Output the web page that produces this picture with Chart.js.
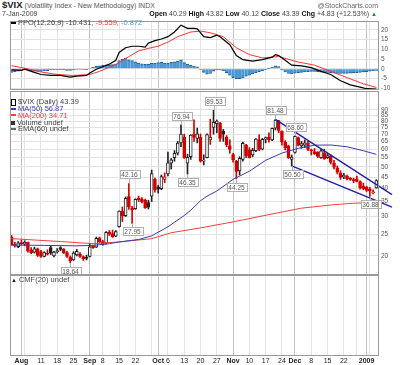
<!DOCTYPE html>
<html>
<head>
<meta charset="utf-8">
<script src="https://cdn.jsdelivr.net/npm/chart.js@4.4.1/dist/chart.umd.min.js"></script>
<style>
  body { margin: 0; background: #fff; }
  #wrap { position: relative; width: 400px; height: 365px; overflow: hidden; font-family: "Liberation Sans", Arial, sans-serif; color: #333; }
  canvas { position: absolute; left: 0; }
  .t { position: absolute; white-space: nowrap; font-size: 7px; line-height: 8px; }
  .lg { font-size: 7.5px; color: #444; }
  .ic { display: inline-block; width: 5px; height: 2px; vertical-align: middle; margin: 0 2px 1px 0; }
</style>
</head>
<body>
<div id="wrap">
  <canvas id="ppo" width="400" height="82" style="top:14px"></canvas>
  <canvas id="px" width="400" height="197" style="top:84px"></canvas>
  <canvas id="cmf" width="400" height="94" style="top:271px"></canvas>

  <div class="t" style="left:2px;top:1px;color:#555"><b style="font-size:9.5px;color:#222">$VIX</b> (Volatility Index - New Methodology) INDX</div>
  <div class="t" style="right:22px;top:2px;color:#666">@StockCharts.com</div>
  <div class="t" style="left:2px;top:10px;color:#444">7-Jan-2009</div>
  <div class="t" style="right:23px;top:10px;color:#444"><b style="color:#111">Open</b> 40.29 <b style="color:#111">High</b> 43.82 <b style="color:#111">Low</b> 40.12 <b style="color:#111">Close</b> 43.39 <b style="color:#111">Chg</b> +4.83 (+12.53%) <span style="color:#1a8a1a;font-size:6px">▲</span></div>

  <div class="t lg" style="left:11px;top:19px"><span class="ic" style="background:#000"></span>PPO(12,26,9) -10.431, <span style="color:#f03c3c">-9.559,</span> <span style="color:#5b9bd5">-0.872</span></div>

  <div class="t lg" style="left:11px;top:98px"><span class="ic" style="width:3px;height:5px;background:#fff;border:1px solid #000;margin-bottom:0"></span>$VIX (Daily) 43.39</div>
  <div class="t lg" style="left:11px;top:105px;color:#3b3bb0"><span class="ic" style="background:#3b3bb0"></span>MA(50) 56.87</div>
  <div class="t lg" style="left:11px;top:111.7px;color:#f04040"><span class="ic" style="background:#f04040"></span>MA(200) 34.71</div>
  <div class="t lg" style="left:11px;top:118.5px"><span class="ic" style="height:4px;width:4px;background:#333;margin-bottom:0"></span>Volume undef</div>
  <div class="t lg" style="left:11px;top:125.2px"><span class="ic" style="background:#5e705e"></span>EMA(60) undef</div>

  <div class="t lg" style="left:11px;top:276px"><span style="font-size:6px;color:#222;margin-right:2px">▲</span>CMF(20) undef</div>
</div>

<script>
const FONT = '"Liberation Sans", Arial, sans-serif';
const RED = '#d40000';
const BLACK = '#222';

// trading days shown, per month
const jul08 = [29, 30, 31];
const aug08 = [1, 4, 5, 6, 7, 8, 11, 12, 13, 14, 15, 18, 19, 20, 21, 22, 25, 26, 27, 28, 29];
const sep08 = [2, 3, 4, 5, 8, 9, 10, 11, 12, 15, 16, 17, 18, 19, 22, 23, 24, 25, 26, 29, 30];
const oct08 = [1, 2, 3, 6, 7, 8, 9, 10, 13, 14, 15, 16, 17, 20, 21, 22, 23, 24, 27, 28, 29, 30, 31];
const nov08 = [3, 4, 5, 6, 7, 10, 11, 12, 13, 14, 17, 18, 19, 20, 21, 24, 25, 26, 28];
const dec08 = [1, 2, 3, 4, 5, 8, 9, 10, 11, 12, 15, 16, 17, 18, 19, 22, 23, 24, 26, 29, 30, 31];
const jan09 = [2, 5, 6, 7];

// x axis tick labels
const tickDates = ['2008-08-01', '2008-08-11', '2008-08-18', '2008-08-25', '2008-09-02', '2008-09-08', '2008-09-15', '2008-09-22',
  '2008-10-01', '2008-10-06', '2008-10-13', '2008-10-20', '2008-10-27', '2008-11-03', '2008-11-10', '2008-11-17', '2008-11-24',
  '2008-12-01', '2008-12-08', '2008-12-15', '2008-12-22', '2009-01-02'];
const tickText = ['Aug', '11', '18', '25', 'Sep', '8', '15', '22', 'Oct', '6', '13', '20', '27', 'Nov', '10', '17', '24', 'Dec', '8', '15', '22', '2009'];

const ppoTicks = [-10, -5, 0, 5, 10, 15, 20];
const priceTicks = [20, 25, 30, 35, 40, 45, 50, 55, 60, 65, 70, 75, 80, 85, 90];

// daily candles
const opens = [24.2, 22.5, 22.0, 22.9, 22.6, 23.0, 21.3, 20.8, 21.5, 20.9,
  19.9, 20.6, 21.8, 20.0, 20.9, 21.8, 21.4, 20.7, 19.8, 19.2,
  20.2, 20.4, 19.9, 19.6, 19.9, 22.1, 21.9, 24.1, 23.2, 22.8,
  25.6, 25.2, 24.5, 27.0, 31.7, 30.3, 36.8, 32.8, 32.5, 36.3,
  35.9, 35.5, 34.6, 37.0, 44.0, 40.6, 40.0, 44.0, 46.5, 52.0,
  55.0, 57.5, 64.0, 68.0, 52.0, 55.5, 70.0, 67.0, 68.0, 53.0,
  55.0, 66.0, 75.0, 78.0, 78.5, 72.0, 68.0, 62.0, 56.8, 53.0,
  48.0, 54.0, 62.5, 59.5, 56.5, 59.0, 66.0, 60.0, 66.5, 68.0,
  66.0, 74.5, 80.5, 72.0, 64.5, 62.0, 54.0, 58.0, 67.5, 62.0,
  62.5, 64.0, 59.5, 58.5, 58.0, 55.0, 57.5, 55.0, 56.0, 52.0,
  49.5, 47.0, 45.0, 45.5, 44.5, 43.8, 44.0, 43.0, 41.0, 40.5,
  39.8, 38.3, 40.29];
const highs = [24.7, 23.0, 23.2, 23.6, 23.4, 23.1, 21.8, 21.9, 21.7, 21.2,
  20.9, 21.3, 22.2, 21.0, 21.6, 22.0, 21.6, 21.0, 20.0, 20.9,
  21.4, 20.7, 20.0, 20.2, 22.6, 22.4, 24.3, 24.3, 23.5, 25.7,
  26.0, 26.1, 26.0, 31.8, 33.1, 36.7, 42.16, 33.3, 36.0, 37.0,
  36.5, 35.9, 35.5, 48.4, 44.5, 41.3, 46.0, 47.0, 58.2, 54.5,
  59.1, 64.9, 76.94, 70.0, 57.0, 69.6, 81.2, 74.5, 70.1, 56.6,
  70.2, 81.6, 89.53, 81.0, 79.0, 73.5, 69.0, 66.0, 57.5, 53.5,
  55.5, 64.5, 63.0, 61.0, 60.5, 66.8, 69.5, 67.0, 68.0, 71.0,
  74.6, 81.48, 80.7, 72.5, 65.5, 62.5, 56.5, 68.6, 68.0, 65.0,
  66.0, 65.0, 60.0, 60.5, 58.5, 59.9, 60.0, 57.5, 56.5, 53.5,
  50.5, 48.0, 46.8, 46.0, 44.8, 44.5, 45.5, 43.3, 42.3, 41.0,
  40.5, 39.5, 43.82];
const lows = [22.3, 21.9, 21.8, 22.4, 22.2, 20.8, 20.5, 20.6, 19.9, 19.7,
  19.8, 20.2, 20.3, 19.8, 20.6, 21.1, 20.5, 19.7, 18.64, 19.1,
  20.0, 19.7, 19.1, 19.2, 19.8, 21.6, 21.8, 22.9, 22.3, 22.6,
  24.7, 24.2, 24.4, 26.9, 28.5, 30.0, 32.3, 27.95, 32.3, 35.0,
  34.5, 32.6, 32.4, 35.0, 38.5, 38.2, 39.5, 42.5, 45.6, 48.9,
  53.0, 56.5, 61.5, 54.5, 46.35, 54.0, 65.0, 64.0, 52.5, 51.0,
  54.8, 63.0, 70.0, 71.0, 65.0, 65.0, 61.5, 57.5, 52.5, 44.25,
  46.0, 53.0, 55.0, 54.8, 55.5, 58.5, 59.0, 59.5, 64.0, 64.5,
  65.5, 73.0, 71.0, 62.5, 59.5, 54.5, 50.5, 57.5, 62.0, 60.5,
  61.0, 59.0, 56.5, 56.8, 55.0, 54.5, 54.0, 54.5, 51.5, 49.0,
  46.5, 44.0, 44.3, 43.7, 43.5, 42.5, 42.8, 39.8, 39.5, 38.8,
  36.88, 37.9, 40.12];
const closes = [22.4, 22.2, 22.9, 22.7, 23.1, 21.0, 20.7, 21.5, 20.1, 19.9,
  20.7, 20.4, 20.6, 20.8, 21.0, 21.4, 20.7, 19.9, 19.0, 20.6,
  21.0, 19.9, 19.4, 19.5, 22.0, 21.8, 24.0, 23.1, 22.6, 25.5,
  25.0, 24.4, 25.7, 31.7, 30.3, 36.2, 33.1, 32.1, 35.8, 35.7,
  34.9, 32.8, 33.0, 46.7, 39.4, 39.8, 45.3, 45.1, 52.1, 53.7,
  57.5, 63.9, 70.0, 55.0, 55.1, 69.3, 67.6, 70.3, 53.0, 53.1,
  69.7, 67.8, 79.1, 80.1, 67.0, 70.0, 62.9, 59.9, 53.7, 47.7,
  54.6, 63.7, 56.1, 55.0, 59.2, 66.5, 59.8, 66.3, 67.6, 65.9,
  74.3, 80.9, 72.7, 64.7, 60.9, 54.9, 55.3, 68.5, 62.5, 63.5,
  64.0, 59.9, 58.9, 57.3, 55.7, 59.0, 54.3, 56.1, 52.4, 49.8,
  47.3, 44.9, 45.9, 44.2, 43.9, 43.4, 43.0, 40.3, 40.0, 39.2,
  39.1, 38.6, 43.39];

// moving averages, read at a few dates (index into the trading days)
const ma50Idx = [0, 10, 20, 25, 30, 33, 39, 43, 48, 50, 53, 55, 58, 60, 63, 68, 73, 78, 83, 88, 93, 98, 103, 108, 112];
const ma50Val = [22.4, 22.3, 22.2, 22.3, 22.7, 23.1, 23.7, 24.6, 27.0, 28.3, 30.3, 32.0, 35.3, 37.0, 39.0, 44.0, 47.8, 53.5, 57.6, 60.5, 62.5, 62.6, 61.5, 59.0, 56.87];
const ma200Idx = [0, 15, 25, 33, 43, 49, 58, 68, 79, 89, 99, 105, 112];
const ma200Val = [23.9, 23.2, 22.7, 23.1, 23.9, 25.4, 26.7, 28.4, 30.6, 32.7, 33.9, 34.4, 34.71];

// trend lines drawn on the price panel
const trendUpIdx = [81, 112];
const trendUpVal = [81.48, 41.7];
const trendLoIdx = [86, 112];
const trendLoVal = [50.5, 35.3];

// high / low call-outs
const noteIdx = [18, 36, 37, 52, 54, 62, 69, 81, 86, 87, 110];
const noteVal = [18.64, 42.16, 27.95, 76.94, 46.35, 89.53, 44.25, 81.48, 50.50, 68.60, 36.88];
const notePos = ['below', 'above', 'below', 'above', 'below', 'above', 'below', 'above', 'below', 'above', 'below'];

// PPO(12,26,9)
const ppoIdx = [0, 3, 4, 7, 9, 12, 15, 18, 20, 23, 24, 26, 28, 30, 32, 33, 35, 37, 39, 41, 42, 44, 46, 48, 50, 52, 54, 56, 57, 59,
  61, 63, 64, 67, 69, 71, 74, 77, 80, 81, 82, 84, 86, 89, 92, 95, 98, 101, 104, 107, 109, 112];
const ppoVal = [-0.5, -0.8, -0.2, -1.8, -2.9, -3.4, -3.4, -4.2, -3.7, -3.4, -2.1, -0.2, 1.1, 2.4, 4.4, 8.4, 10.8, 11.6, 11.6, 11.1,
  13.2, 14.5, 15.3, 16.5, 18.9, 22.4, 20.8, 20.8, 20.5, 16.5, 16.0, 17.3, 16.5, 12.4, 6.8, 4.7, 4.0, 4.7, 6.0, 7.3,
  6.8, 4.4, 1.9, 1.5, 0.6, -1.3, -2.9, -6.1, -8.2, -9.4, -10.2, -10.431];
const sigIdx = [0, 5, 9, 14, 19, 24, 27, 30, 33, 36, 39, 42, 45, 48, 51, 55, 58, 61, 65, 69, 73, 77, 82, 88, 93, 98, 103, 108, 112];
const sigVal = [1.6, 0, -1.6, -2.9, -3.4, -2.9, -1.3, 0.8, 3.1, 6.3, 9.2, 10.5, 11.6, 13.7, 16.5, 18.9, 19.4, 18.5, 16.5, 10.8,
  7.3, 5.6, 6.3, 3.5, 1.9, -1.3, -4.5, -7.7, -9.559];
const histVal = [-1.8, -1.6, -1.2, -0.8, -0.4, -0.6, -1.0, -1.2, -1.3, -1.3,
  -1.1, -0.9, -0.6, -0.5, -0.5, -0.4, -0.6, -0.8, -0.8, -0.5,
  -0.3, -0.2, -0.3, -0.4, 0.3, 0.8, 1.3, 1.6, 1.8, 2.0,
  2.0, 2.2, 2.5, 4.2, 5.0, 5.5, 4.6, 4.2, 3.6, 3.0,
  2.6, 2.3, 2.5, 2.8, 3.0, 3.2, 3.4, 3.0, 2.9, 3.4,
  3.6, 4.0, 4.6, 3.2, 2.5, 1.9, 1.4, 1.0, -0.2, -1.8,
  -2.8, -2.4, -1.2, -0.6, -0.5, -1.0, -2.0, -3.2, -4.5, -5.2,
  -5.0, -4.6, -3.8, -3.2, -2.6, -2.0, -1.5, -0.9, -0.4, 0.1,
  0.9, 1.6, 1.1, -0.5, -1.6, -2.4, -2.6, -2.2, -2.0, -1.8,
  -1.6, -1.4, -1.3, -1.3, -1.5, -1.7, -1.8, -1.9, -2.0, -2.2,
  -2.4, -2.4, -2.3, -2.3, -2.2, -2.1, -2.0, -1.8, -1.6, -1.4,
  -1.2, -1.0, -0.872];

function day(y, m, d) {
    return `${y}-${String(m).padStart(2, '0')}-${String(d).padStart(2, '0')}`;
}

const dates = [
    ...jul08.map(d => day(2008, 7, d)),
    ...aug08.map(d => day(2008, 8, d)),
    ...sep08.map(d => day(2008, 9, d)),
    ...oct08.map(d => day(2008, 10, d)),
    ...nov08.map(d => day(2008, 11, d)),
    ...dec08.map(d => day(2008, 12, d)),
    ...jan09.map(d => day(2009, 1, d))
];

const isMonthStart = i => i > 0 && dates[i].slice(5, 7) !== dates[i - 1].slice(5, 7);
const isMonday = i => new Date(dates[i] + 'T12:00:00').getDay() === 1;
const vGrid = c => isMonthStart(c.index) ? '#c2c2c2' : isMonday(c.index) ? '#e4e4e4' : 'rgba(0,0,0,0)';

const tickLabel = i => {
    const k = tickDates.indexOf(dates[i]);
    return k < 0 ? '' : tickText[k];
};

const pts = (idx, vals) => idx.map((i, k) => ({ x: dates[i], y: vals[k] }));

const candleColor = closes.map((c, i) => (i === 0 ? c < opens[0] : c < closes[i - 1]) ? RED : BLACK);
const candleFill = closes.map((c, i) => c < opens[i] ? candleColor[i] : '#fff');

const xAxis = showLabels => ({
    type: 'category',
    offset: true,
    grid: { offset: false, drawTicks: false, color: vGrid, lineWidth: 1 },
    border: { display: false },
    ticks: showLabels ? {
        autoSkip: false, maxRotation: 0, minRotation: 0, padding: 2, color: '#222',
        font: c => ({ size: 7, family: FONT, weight: /^\d{1,2}$/.test(tickLabel(c.index)) ? 'normal' : 'bold' }),
        callback: (v, i) => tickLabel(i)
    } : { display: false },
    afterFit: s => { s.height = showLabels ? 10 : 0; }
});

const yRight = (tickValues, extra) => Object.assign({
    position: 'right',
    grid: { drawTicks: false, color: tickValues ? '#e2e2e2' : 'rgba(0,0,0,0)' },
    border: { display: false },
    ticks: tickValues ? {
        autoSkip: false, padding: 3, color: '#555',
        font: { size: 6.5, family: FONT },
        callback: v => String(v)
    } : { display: false },
    afterBuildTicks: s => { if (tickValues) s.ticks = tickValues.map(v => ({ value: v })); },
    afterFit: s => { s.width = 22; }
}, extra);

const frame = {
    id: 'frame',
    afterDraw(chart) {
        const { ctx, chartArea: a } = chart;
        ctx.save();
        ctx.strokeStyle = '#9a9a9a';
        ctx.lineWidth = 1;
        ctx.strokeRect(Math.round(a.left) + 0.5, Math.round(a.top) + 0.5, Math.round(a.right - a.left), Math.round(a.bottom - a.top));
        ctx.restore();
    }
};

const trends = {
    id: 'trends',
    afterDatasetsDraw(chart) {
        const { ctx, scales: { x, y } } = chart;
        ctx.save();
        ctx.strokeStyle = '#1e1ea8';
        ctx.lineWidth = 1.3;
        [[trendUpIdx, trendUpVal], [trendLoIdx, trendLoVal]].forEach(([ix, vals]) => {
            const x0 = x.getPixelForValue(ix[0]), y0 = y.getPixelForValue(vals[0]);
            const x1 = x.getPixelForValue(ix[1]), y1 = y.getPixelForValue(vals[1]);
            const xe = x.right + 14;
            const ye = y0 + (y1 - y0) * (xe - x0) / (x1 - x0);
            ctx.beginPath();
            ctx.moveTo(x0, y0);
            ctx.lineTo(xe, ye);
            ctx.stroke();
        });
        ctx.restore();
    }
};

const notes = {
    id: 'notes',
    afterDatasetsDraw(chart) {
        const { ctx, scales: { x, y } } = chart;
        ctx.save();
        ctx.font = `6.5px ${FONT}`;
        ctx.textAlign = 'center';
        ctx.textBaseline = 'middle';
        noteIdx.forEach((i, k) => {
            const px = Math.round(x.getPixelForValue(i)) + 0.5;
            const py = y.getPixelForValue(noteVal[k]);
            const txt = noteVal[k].toFixed(2);
            const w = Math.round(ctx.measureText(txt).width) + 4, h = 8;
            const up = notePos[k] === 'above';
            const by = Math.round(up ? py - 5 - h : py + 4) + 0.5;
            const bx = Math.round(px - w / 2) + 0.5;
            ctx.strokeStyle = '#b0b0b0';
            ctx.lineWidth = 1;
            ctx.beginPath();
            ctx.moveTo(px, py);
            ctx.lineTo(px, up ? by + h : by);
            ctx.stroke();
            ctx.fillStyle = '#fff';
            ctx.fillRect(bx, by, w, h);
            ctx.strokeRect(bx, by, w, h);
            ctx.fillStyle = '#555';
            ctx.fillText(txt, px, by + h / 2 + 0.5);
        });
        ctx.restore();
    }
};

const base = padding => ({
    responsive: false,
    animation: false,
    events: [],
    layout: { padding },
    plugins: { legend: { display: false }, tooltip: { enabled: false } }
});

new Chart(document.getElementById('ppo'), {
    type: 'bar',
    data: {
        labels: dates,
        datasets: [
            { type: 'line', data: pts(ppoIdx, ppoVal), borderColor: '#000', borderWidth: 1.2, pointRadius: 0, order: 0 },
            { type: 'line', data: pts(sigIdx, sigVal), borderColor: '#ff3333', borderWidth: 1, pointRadius: 0, order: 1 },
            { data: histVal, backgroundColor: '#4b98d0', borderColor: '#1e5a96', borderSkipped: false,
              borderWidth: c => histVal[c.dataIndex] >= 0 ? { top: 1, bottom: 0, left: 0, right: 0 } : { top: 0, bottom: 1, left: 0, right: 0 },
              barPercentage: 1, categoryPercentage: 1, order: 2 }
        ]
    },
    options: Object.assign(base({ left: 10, top: 5, bottom: 6, right: 0 }), {
        scales: {
            x: xAxis(false),
            y: yRight(ppoTicks, { type: 'linear', min: -10.4, max: 24.6 })
        }
    }),
    plugins: [frame]
});

new Chart(document.getElementById('px'), {
    type: 'bar',
    data: {
        labels: dates,
        datasets: [
            { type: 'line', data: pts(ma50Idx, ma50Val), borderColor: '#3b3bb0', borderWidth: 1, pointRadius: 0, order: 0 },
            { type: 'line', data: pts(ma200Idx, ma200Val), borderColor: '#f04040', borderWidth: 1, pointRadius: 0, order: 0 },
            { data: opens.map((o, i) => [o, closes[i]]), backgroundColor: candleFill, borderColor: candleColor,
              borderWidth: 1, borderSkipped: false, barThickness: 3, minBarLength: 1, grouped: false, order: 1 },
            { data: lows.map((l, i) => [l, highs[i]]), backgroundColor: candleColor,
              barThickness: 1, grouped: false, order: 2 }
        ]
    },
    options: Object.assign(base({ left: 10, top: 6, bottom: 6, right: 0 }), {
        scales: {
            x: xAxis(false),
            y: yRight(priceTicks, { type: 'logarithmic', min: 16.6, max: 109.2, bounds: 'data' })
        }
    }),
    plugins: [frame, trends, notes]
});

new Chart(document.getElementById('cmf'), {
    type: 'bar',
    data: { labels: dates, datasets: [] },
    options: Object.assign(base({ left: 10, top: 4, bottom: 0, right: 0 }), {
        scales: {
            x: xAxis(true),
            y: yRight(null, { type: 'linear', min: -1, max: 1 })
        }
    }),
    plugins: [frame]
});
</script>
</body>
</html>
